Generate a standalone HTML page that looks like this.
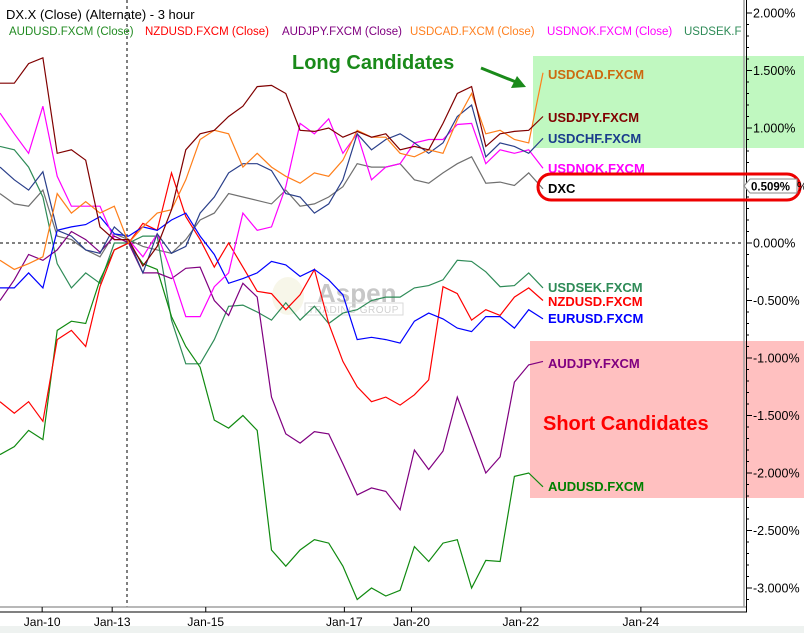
<!DOCTYPE html>
<html><head><meta charset="utf-8"><style>
html,body{margin:0;padding:0;background:#fff;}
svg{display:block;font-family:"Liberation Sans","DejaVu Sans",sans-serif;}
</style></head><body>
<svg id="chart" width="804" height="633" viewBox="0 0 804 633" xmlns="http://www.w3.org/2000/svg">
<rect x="0" y="0" width="804" height="633" fill="#fff"/>
<rect x="0" y="626" width="804" height="7" fill="#eef2f0"/>
<rect x="533" y="56" width="271" height="92" fill="#c0f8c0"/>
<rect x="530" y="341" width="274" height="157" fill="#ffc0c0"/>
<g opacity="0.55">
<ellipse cx="288" cy="296" rx="16" ry="19" fill="#f2f0d8"/>
<text x="317" y="302" font-size="26" font-weight="bold" fill="#9a9a9a">Aspen</text>
<rect x="305" y="303" width="98" height="12" fill="none" stroke="#bbb" stroke-width="1"/>
<text x="308" y="313" font-size="10" fill="#aaa" letter-spacing="0.5">TRADING GROUP</text>
</g>
<line x1="0" y1="243" x2="744" y2="243" stroke="#000" stroke-dasharray="3,3"/>
<line x1="127" y1="0" x2="127" y2="607" stroke="#000" stroke-dasharray="3,3"/>
<g id="series"></g>
<g id="axes"></g>
<text x="6" y="19" font-size="13" fill="#000">DX.X (Close) (Alternate) - 3 hour</text>
<g font-size="11.5">
<text x="9" y="35" fill="#228b22">AUDUSD.FXCM (Close)</text>
<text x="145" y="35" fill="#ff0000">NZDUSD.FXCM (Close)</text>
<text x="282" y="35" fill="#800080">AUDJPY.FXCM (Close)</text>
<text x="410" y="35" fill="#ff8020">USDCAD.FXCM (Close)</text>
<text x="547" y="35" fill="#ff00ff">USDNOK.FXCM (Close)</text>
<text x="684" y="35" fill="#2e8b57">USDSEK.F</text>
</g>
<text x="292" y="69" font-size="20" font-weight="bold" fill="#1a8a1a">Long Candidates</text>
<g>
<line x1="481" y1="68" x2="516" y2="82" stroke="#1a8a1a" stroke-width="3"/>
<polygon points="526,87 511,88 517,76" fill="#1a8a1a"/>
</g>
<text x="543" y="430" font-size="20" font-weight="bold" fill="#ff0000">Short Candidates</text>
<g font-size="13" font-weight="bold">
<text x="548" y="79" fill="#cc6a10">USDCAD.FXCM</text>
<text x="548" y="122" fill="#800000">USDJPY.FXCM</text>
<text x="548" y="143" fill="#1a3c8c">USDCHF.FXCM</text>
<text x="548" y="173" fill="#ff00ff">USDNOK.FXCM</text>
<text x="548" y="193" fill="#000">DXC</text>
<text x="548" y="292" fill="#2e8b57">USDSEK.FXCM</text>
<text x="548" y="306" fill="#ff0000">NZDUSD.FXCM</text>
<text x="548" y="323" fill="#0000ff">EURUSD.FXCM</text>
<text x="548" y="368" fill="#800080">AUDJPY.FXCM</text>
<text x="548" y="491" fill="#008000">AUDUSD.FXCM</text>
</g>
<rect x="538" y="174" width="262" height="26" rx="13" ry="13" fill="none" stroke="#ee0000" stroke-width="3"/>
<g>
<polygon points="744,186 750,179 797,179 797,193 750,193" fill="#fff" stroke="#888"/>
<text x="751" y="190.5" font-size="11.5" font-weight="bold" fill="#000">0.509%</text>
<text x="797" y="190.5" font-size="11.5" fill="#000">%</text>
</g>
<script>
var xIndex = [];
for (var k = 0; k < 39; k++) xIndex.push(k);
var yTicks = [2, 1.5, 1, 0, -0.5, -1, -1.5, -2, -2.5, -3];
var yTickLabels = ["2.000%","1.500%","1.000%","0.000%","-0.500%","-1.000%","-1.500%","-2.000%","-2.500%","-3.000%"];
var dateLabels = ["Jan-10","Jan-13","Jan-15","Jan-17","Jan-20","Jan-22","Jan-24"];
var dateIdx = [2.95, 7.85, 14.4, 24.1, 28.8, 36.45, 44.85];
var usdjpy = [1.39,1.39,1.56,1.61,0.78,0.81,0.72,0.14,0.03,0.03,-0.2,-0.03,0.29,0.81,0.95,0.98,1.10,1.19,1.36,1.37,1.30,0.98,0.97,1.00,0.92,0.97,0.92,0.95,0.81,0.84,0.81,1.04,1.30,1.36,0.84,0.95,0.97,0.98,1.10];
var usdcad = [-0.15,-0.23,-0.18,-0.12,0.43,0.26,0.36,0.26,0.32,0.00,0.14,0.26,0.29,0.55,0.90,0.98,0.95,0.66,0.78,0.66,0.58,0.52,0.61,0.58,0.72,0.98,0.92,0.92,0.78,0.75,0.81,0.78,1.07,1.30,0.95,0.98,0.90,0.87,1.48];
var usdchf = [0.66,0.55,0.46,0.62,0.11,0.06,-0.06,-0.09,0.14,0.03,-0.26,0.08,-0.09,-0.03,0.26,0.40,0.61,0.69,0.69,0.63,0.43,0.40,0.26,0.34,0.55,0.95,0.81,0.90,0.95,0.87,0.78,0.87,1.10,1.20,0.75,0.87,0.84,0.78,0.91];
var usdnok = [1.13,0.95,0.78,1.19,0.58,0.32,0.32,0.32,0.03,0.03,-0.12,0.08,-0.26,-0.64,-0.64,-0.38,-0.26,0.26,0.11,0.14,0.49,1.04,0.95,1.08,0.78,0.95,0.55,0.66,0.69,0.87,0.90,0.90,1.03,1.04,0.69,0.81,0.78,0.81,0.65];
var dxc = [0.43,0.34,0.32,0.46,0.06,0.03,-0.06,-0.12,0.08,0.03,-0.03,-0.06,-0.09,0.03,0.2,0.26,0.43,0.40,0.37,0.34,0.46,0.32,0.34,0.40,0.49,0.69,0.66,0.66,0.69,0.55,0.52,0.61,0.69,0.75,0.52,0.53,0.50,0.61,0.47];
var usdsek = [0.84,0.81,0.66,0.40,-0.18,-0.39,-0.26,-0.35,0,0,0.06,0.06,-0.67,-1.05,-1.05,-0.84,-0.55,-0.54,-0.60,-0.67,-0.52,-0.67,-0.55,-0.70,-0.61,-0.58,-0.50,-0.47,-0.47,-0.39,-0.37,-0.32,-0.15,-0.16,-0.25,-0.38,-0.37,-0.26,-0.39];
var nzdusd = [-1.38,-1.48,-1.38,-1.55,-0.84,-0.76,-0.90,-0.38,-0.06,0,0.17,0.11,0.61,0.23,0.03,-0.21,0,-0.21,-0.42,-0.44,-0.58,-0.45,-0.23,-0.70,-1.03,-1.25,-1.38,-1.34,-1.41,-1.32,-1.19,-0.38,-0.44,-0.67,-0.58,-0.63,-0.47,-0.39,-0.50];
var eurusd = [-0.39,-0.39,-0.26,-0.39,0.11,0.14,0.16,0.23,0.08,0.06,0.14,0.11,0.2,0.26,0.06,-0.10,-0.35,-0.31,-0.26,-0.16,-0.19,-0.29,-0.23,-0.32,-0.45,-0.84,-0.82,-0.84,-0.87,-0.68,-0.61,-0.66,-0.74,-0.77,-0.64,-0.64,-0.74,-0.58,-0.66];
var audjpy = [-0.50,-0.32,-0.10,-0.15,-0.06,0.10,0.03,-0.08,0.06,0,-0.26,-0.26,-0.31,-0.22,-0.21,-0.50,-0.63,-0.35,-0.47,-1.34,-1.66,-1.74,-1.64,-1.66,-1.92,-2.19,-2.13,-2.16,-2.32,-1.80,-1.97,-1.81,-1.34,-1.67,-2.00,-1.86,-1.21,-1.06,-1.03];
var audusd = [-1.84,-1.77,-1.63,-1.71,-0.76,-0.68,-0.70,-0.32,-0.06,0,-0.18,-0.23,-0.64,-0.90,-1.08,-1.54,-1.61,-1.50,-1.63,-2.67,-2.81,-2.67,-2.58,-2.61,-2.81,-3.10,-3.00,-3.07,-3.02,-2.64,-2.77,-2.61,-2.58,-3.00,-2.76,-2.77,-2.03,-2.00,-2.12];

var NS = "http://www.w3.org/2000/svg";
function xScale(i){ return i * 543 / 38; }
function yScale(v){ return 243 - v * 115; }

var seriesList = [
  ["dxc", dxc, "#707070"],
  ["usdsek", usdsek, "#2e8b57"],
  ["audusd", audusd, "#108a10"],
  ["audjpy", audjpy, "#800080"],
  ["nzdusd", nzdusd, "#ff0000"],
  ["eurusd", eurusd, "#0000ff"],
  ["usdnok", usdnok, "#ff00ff"],
  ["usdchf", usdchf, "#2a3f8a"],
  ["usdcad", usdcad, "#ff7f1a"],
  ["usdjpy", usdjpy, "#800000"]
];
var sg = document.getElementById("series");
seriesList.forEach(function(s){
  var pts = s[1].map(function(v, i){ return xScale(xIndex[i]).toFixed(1) + "," + yScale(v).toFixed(1); }).join(" ");
  var pl = document.createElementNS(NS, "polyline");
  pl.setAttribute("points", pts);
  pl.setAttribute("fill", "none");
  pl.setAttribute("stroke", s[2]);
  pl.setAttribute("stroke-width", "1.2");
  
  
  sg.appendChild(pl);
});

var ax = document.getElementById("axes");
function mk(tag, attrs){ var e = document.createElementNS(NS, tag); for (var a in attrs) e.setAttribute(a, attrs[a]); return e; }
var l1 = mk("line", {x1:744, y1:0, x2:744, y2:607, stroke:"#a0a0a0", "stroke-width":1.5});


ax.appendChild(l1);
var l2 = mk("line", {x1:746.5, y1:0, x2:746.5, y2:612, stroke:"#000", "stroke-width":1});


ax.appendChild(l2);
for (var m = 20; m >= -32; m--) {
  var yy = yScale(m / 10);
  if (yy < 0 || yy > 607) continue;
  var major = (m % 5 === 0);
  var t = mk("line", {x1:746, y1:yy, x2: major ? 752 : 749, y2:yy, stroke:"#000", "stroke-width":1});
  
  
  ax.appendChild(t);
}
yTicks.forEach(function(v, i){
  var tx = mk("text", {x:753, y:yScale(v) + 4.5, "font-size":12.5, fill:"#000"});
  tx.textContent = yTickLabels[i];
  
  
  ax.appendChild(tx);
});
var b1 = mk("line", {x1:0, y1:607, x2:746, y2:607, stroke:"#a0a0a0", "stroke-width":1.5});


ax.appendChild(b1);
var b2 = mk("line", {x1:0, y1:612, x2:747, y2:612, stroke:"#000", "stroke-width":1});


ax.appendChild(b2);
dateLabels.forEach(function(d, i){
  var xx = xScale(dateIdx[i]);
  var t = mk("line", {x1:xx, y1:607, x2:xx, y2:612, stroke:"#000"});
  
  
  ax.appendChild(t);
  var tx = mk("text", {x:xx, y:626, "font-size":12, fill:"#000", "text-anchor":"middle"});
  tx.textContent = d;
  
  
  ax.appendChild(tx);
});
</script>
</svg>
</body></html>
